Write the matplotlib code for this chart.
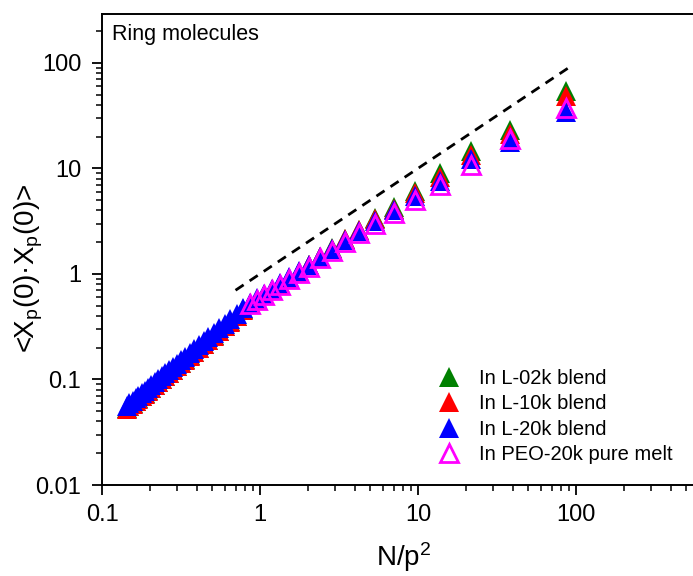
import matplotlib
matplotlib.use('Agg')
import matplotlib.pyplot as plt
from matplotlib.ticker import LogLocator, FuncFormatter, NullFormatter

plt.rcParams['font.family'] = ['Liberation Sans', 'DejaVu Sans']
plt.rcParams['mathtext.fontset'] = 'custom'
plt.rcParams['mathtext.rm'] = 'Liberation Sans'
plt.rcParams['mathtext.it'] = 'Liberation Sans:italic'

# N/p^2 values
x_ring = [86.0, 38.2, 21.5, 13.8, 9.56, 7.02, 5.38, 4.25, 3.44, 2.84,
          2.39, 2.04, 1.76, 1.53, 1.34, 1.19, 1.06, 0.953, 0.860, 0.780,
          0.711, 0.650, 0.597, 0.550, 0.509, 0.472, 0.439, 0.409, 0.382, 0.358,
          0.336, 0.316, 0.298, 0.281, 0.265, 0.251, 0.238, 0.226, 0.215, 0.205,
          0.195, 0.186, 0.178, 0.170, 0.163, 0.156, 0.149, 0.143]

y_l02k = [54, 23, 14.5, 9.1, 6.1, 4.3, 3.35, 2.62, 2.15, 1.75,
          1.46, 1.22, 1.05, 0.91, 0.80, 0.71, 0.635, 0.57, 0.518, 0.462,
          0.40, 0.357, 0.321, 0.290, 0.263, 0.239, 0.219, 0.200, 0.183, 0.169,
          0.156, 0.144, 0.134, 0.124, 0.116, 0.108, 0.102, 0.0949, 0.0891, 0.0837,
          0.0789, 0.0743, 0.0701, 0.0663, 0.0627, 0.0594, 0.0563, 0.0535]

y_l10k = [48, 21, 13.5, 8.3, 5.8, 4.15, 3.28, 2.58, 2.12, 1.73,
          1.45, 1.21, 1.04, 0.90, 0.79, 0.705, 0.63, 0.567, 0.514, 0.458,
          0.396, 0.353, 0.318, 0.287, 0.260, 0.237, 0.216, 0.197, 0.181, 0.167,
          0.154, 0.143, 0.133, 0.123, 0.115, 0.107, 0.101, 0.0939, 0.0882, 0.0828,
          0.078, 0.0735, 0.0694, 0.0656, 0.062, 0.0588, 0.0557, 0.053]

y_l20k = [34, 17.8, 12.3, 7.6, 5.5, 4.0, 3.2, 2.55, 2.1, 1.72,
          1.44, 1.21, 1.06, 0.926, 0.817, 0.726, 0.650, 0.585, 0.530, 0.473,
          0.421, 0.376, 0.338, 0.305, 0.277, 0.252, 0.230, 0.210, 0.193, 0.178,
          0.164, 0.152, 0.141, 0.131, 0.122, 0.114, 0.107, 0.0999, 0.0938, 0.0881,
          0.083, 0.0782, 0.0738, 0.0698, 0.066, 0.0625, 0.0593, 0.0563]

x_peo = x_ring[:19]
y_peo = [37, 19, 10.8, 7.0, 5.0, 3.75, 3.0, 2.45, 2.0, 1.66,
         1.40, 1.17, 1.03, 0.90, 0.79, 0.705, 0.63, 0.57, 0.515]

dash_x = [0.7, 95]
dash_y = [0.7, 95]

fig = plt.figure(figsize=(6.93, 5.76), dpi=100)
ax = fig.add_axes([102/693, 91/576, 591/693, 471/576])

ax.plot(dash_x, dash_y, color='black', lw=2.0, ls=(0, (3.5, 2.6)))

ms = 14.5
ax.plot(x_ring, y_l02k, ls='none', marker='^', ms=ms, mew=0, color='#008000',
        label='In L-02k blend')
ax.plot(x_ring, y_l10k, ls='none', marker='^', ms=ms, mew=0, color='#ff0000',
        label='In L-10k blend')
ax.plot(x_ring, y_l20k, ls='none', marker='^', ms=ms, mew=0, color='#0000ff',
        label='In L-20k blend')
ax.plot(x_peo, y_peo, ls='none', marker='^', ms=12.8, mew=2.0, mfc='none',
        mec='#ff00ff', label='In PEO-20k pure melt')

ax.set_xscale('log')
ax.set_yscale('log')
ax.set_xlim(0.1, 550)
ax.set_ylim(0.01, 290)

fmt = FuncFormatter(lambda v, pos: '%g' % v)
for axis in (ax.xaxis, ax.yaxis):
    axis.set_major_locator(LogLocator(base=10))
    axis.set_minor_locator(LogLocator(base=10, subs=range(2, 10)))
    axis.set_major_formatter(fmt)
    axis.set_minor_formatter(NullFormatter())

ax.spines['right'].set_visible(False)
for s in ('left', 'bottom', 'top'):
    ax.spines[s].set_linewidth(1.4)
ax.tick_params(which='major', direction='out', length=7, width=1.3, labelsize=17)
ax.tick_params(which='minor', direction='out', length=4, width=1.1)
ax.tick_params(axis='x', which='major', pad=7)
ax.tick_params(axis='y', which='major', pad=8)

ax.set_xlabel('N/p$^\\mathrm{2}$', fontsize=20)
ax.set_ylabel('<X$_\\mathrm{p}$(0)·X$_\\mathrm{p}$(0)>', fontsize=20)
ax.xaxis.set_label_coords(0.51, -0.118)
ax.yaxis.set_label_coords(-0.097, 0.461)

ax.text(0.017, 0.979, 'Ring molecules', transform=ax.transAxes,
        ha='left', va='top', fontsize=15.5)

ax.legend(loc='upper left', bbox_to_anchor=(0.567, 0.247), frameon=False,
          fontsize=14.5, borderpad=0, borderaxespad=0, handlelength=1.2,
          handletextpad=0.9, labelspacing=0.32, numpoints=1)

fig.savefig('out.png', dpi=100)
